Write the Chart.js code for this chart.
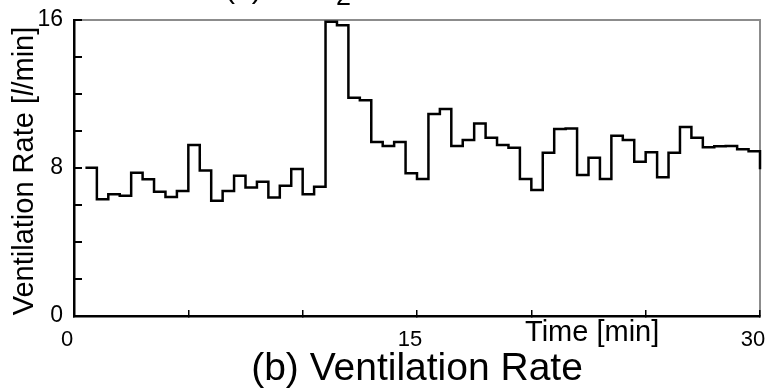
<!DOCTYPE html>
<html>
<head>
<meta charset="utf-8">
<script src="https://cdn.jsdelivr.net/npm/chart.js@4.4.0/dist/chart.umd.min.js"></script>
<style>
html,body{margin:0;padding:0;background:#fff;}
canvas{display:block;}
</style>
</head>
<body>
<canvas id="c" width="768" height="389"></canvas>
<script>
// ---- data ----
const timesMin = [0.5, 1.0, 1.5, 2.0, 2.5, 3.0, 3.5, 4.0, 4.5, 5.0,
                  5.5, 6.0, 6.5, 7.0, 7.5, 8.0, 8.5, 9.0, 9.5, 10.0,
                  10.5, 11.0, 11.5, 12.0, 12.5, 13.0, 13.5, 14.0, 14.5, 15.0,
                  15.5, 16.0, 16.5, 17.0, 17.5, 18.0, 18.5, 19.0, 19.5, 20.0,
                  20.5, 21.0, 21.5, 22.0, 22.5, 23.0, 23.5, 24.0, 24.5, 25.0,
                  25.5, 26.0, 26.5, 27.0, 27.5, 28.0, 28.5, 29.0, 29.5, 30.0];
const ventilationRate = [8.02, 6.31, 6.58, 6.50, 7.75, 7.39, 6.72, 6.43, 6.76, 9.24,
                         7.87, 6.23, 6.76, 7.58, 6.94, 7.26, 6.41, 7.04, 7.95, 6.58,
                         6.99, 15.91, 15.71, 11.80, 11.66, 9.41, 9.19, 9.41, 7.71, 7.41,
                         10.92, 11.19, 9.19, 9.51, 10.41, 9.64, 9.24, 9.10, 7.41, 6.81,
                         8.83, 10.11, 10.14, 7.62, 8.56, 7.41, 9.75, 9.51, 8.34, 8.85,
                         7.50, 8.83, 10.22, 9.64, 9.12, 9.17, 9.19, 9.01, 8.90, 7.93];
const xTickValues = [0, 5, 10, 15, 20, 25, 30];
const xTickLabels = [0, 15, 30];
const yTickLabels = [0, 8, 16];
const mainTitle = '(b) Ventilation Rate';
// y title parts: [text, italic?]
const yTitleParts = [['Ventilation Rate [', false], ['l', true], ['/min]', false]];
const xTitle = 'Time [min]';
const clippedTitle = '(a) VCO';
const clippedTitleSub = '2';

const FONT = "'Liberation Sans', Arial, sans-serif";

const framePlugin = {
  id: 'frame',
  beforeDraw(chart) {
    const {ctx, chartArea: a} = chart;
    ctx.save();
    ctx.strokeStyle = '#8c8c8c';
    ctx.lineWidth = 2;
    ctx.beginPath();
    ctx.moveTo(a.left, a.top);
    ctx.lineTo(a.right, a.top);
    ctx.lineTo(a.right, a.bottom);
    ctx.stroke();
    ctx.restore();
  },
  afterDraw(chart) {
    const {ctx} = chart;
    const xs = chart.scales.x, ys = chart.scales.y;
    ctx.save();
    ctx.fillStyle = '#000';
    ctx.textBaseline = 'alphabetic';
    // y axis title (rotated), with italic "l"
    const fN = '29px ' + FONT, fI = 'italic 29px ' + FONT;
    let total = 0;
    const widths = yTitleParts.map(([t, it]) => { ctx.font = it ? fI : fN; const w = ctx.measureText(t).width; total += w; return w; });
    ctx.save();
    ctx.translate(33, (ys.top + ys.bottom) / 2 + 3);
    ctx.rotate(-Math.PI / 2);
    ctx.textAlign = 'left';
    let px = -total / 2;
    yTitleParts.forEach(([t, it], i) => { ctx.font = it ? fI : fN; ctx.fillText(t, px, 0); px += widths[i]; });
    ctx.restore();
    // x axis title at the right
    ctx.textAlign = 'left';
    ctx.font = '29px ' + FONT;
    ctx.fillText(xTitle, 525, 341);
    // main title below
    ctx.textAlign = 'center';
    ctx.font = '39px ' + FONT;
    ctx.fillText(mainTitle, (xs.left + xs.right) / 2, 380);
    // clipped title of the panel above
    ctx.textAlign = 'left';
    ctx.font = '30px ' + FONT;
    ctx.fillText(clippedTitle, 225, -2);
    const w = ctx.measureText(clippedTitle).width;
    ctx.font = '27px ' + FONT;
    ctx.fillText(clippedTitleSub, 225 + w + 1, 5);
    ctx.restore();
  }
};

new Chart(document.getElementById('c'), {
  type: 'line',
  data: {
    datasets: [{
      data: timesMin.map((t, i) => ({x: t, y: ventilationRate[i]})),
      stepped: true,
      borderColor: '#000',
      borderWidth: 2.5,
      pointRadius: 0,
      fill: false,
      tension: 0,
      clip: 4
    }]
  },
  options: {
    responsive: false,
    animation: false,
    devicePixelRatio: 1,
    layout: {padding: {top: 20, right: 8, left: 0, bottom: 0}},
    plugins: {legend: {display: false}, tooltip: {enabled: false}, title: {display: false}},
    scales: {
      x: {
        type: 'linear',
        min: 0, max: 30,
        afterBuildTicks: s => { s.ticks = xTickValues.map(v => ({value: v})); },
        afterFit: s => { s.height = 73; s.paddingLeft = 0; s.paddingRight = 0; },
        ticks: {
          autoSkip: false, maxRotation: 0, minRotation: 0,
          color: '#000',
          font: {family: FONT, size: 22},
          padding: 17,
          labelOffset: -7,
          callback: v => xTickLabels.includes(v) ? String(v) : ''
        },
        grid: {drawOnChartArea: false, tickLength: -6, color: '#000', lineWidth: 1.5},
        border: {color: '#000', width: 2.5}
      },
      y: {
        min: 0, max: 16,
        afterFit: s => { s.width = 74; s.paddingTop = 0; s.paddingBottom = 0; },
        ticks: {
          stepSize: 2, autoSkip: false,
          color: '#000',
          font: {family: FONT, size: 23},
          padding: 19,
          callback: v => yTickLabels.includes(v) ? String(v) : ''
        },
        grid: {drawOnChartArea: false, tickLength: -8, color: '#000', lineWidth: 2},
        border: {color: '#000', width: 2.5}
      }
    }
  },
  plugins: [framePlugin]
});
</script>
</body>
</html>
